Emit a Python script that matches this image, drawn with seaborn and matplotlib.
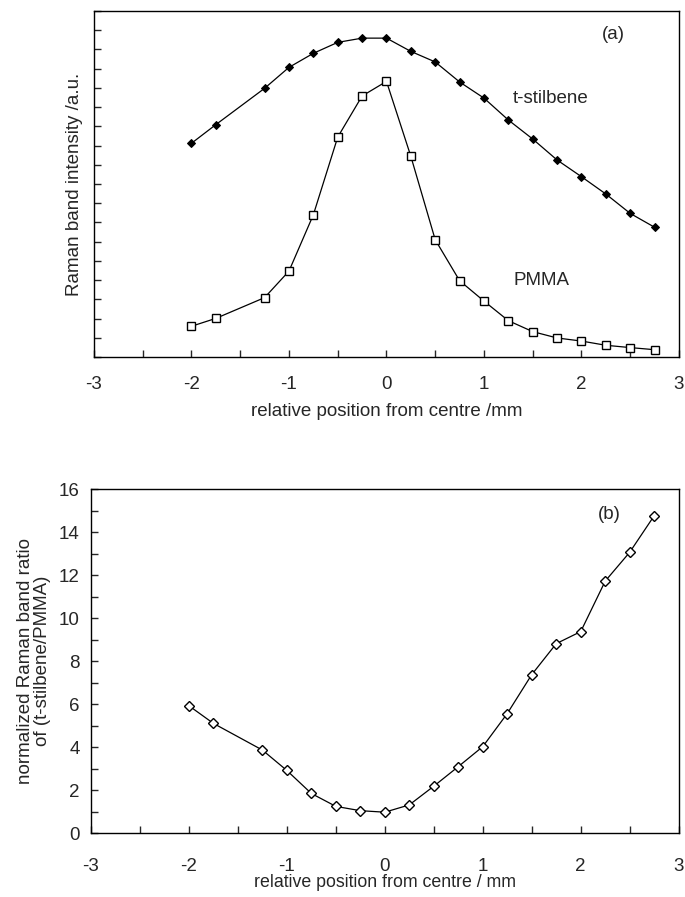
"""
Raman band intensity profiles across the sample and their normalized ratio
"""
import matplotlib
matplotlib.use("Agg")
import matplotlib.pyplot as plt
import matplotlib.ticker as mticker
import seaborn as sns
import pandas as pd

# positions from centre /mm (no point at -1.5)
position = [-2.0, -1.75, -1.25, -1.0, -0.75, -0.5, -0.25, 0.0, 0.25, 0.5,
            0.75, 1.0, 1.25, 1.5, 1.75, 2.0, 2.25, 2.5, 2.75]

# band intensities, arbitrary units
stilbene = [11.12, 12.09, 13.98, 15.07, 15.80, 16.37, 16.59, 16.59, 15.90, 15.35,
            14.31, 13.47, 12.33, 11.34, 10.25, 9.38, 8.48, 7.47, 6.75]
pmma = [1.60, 2.01, 3.09, 4.47, 7.40, 11.44, 13.58, 14.34, 10.44, 6.10,
        3.97, 2.91, 1.89, 1.32, 0.99, 0.83, 0.61, 0.49, 0.38]

# normalized ratio t-stilbene/PMMA
ratio = [5.92, 5.10, 3.86, 2.91, 1.84, 1.24, 1.04, 0.97, 1.31, 2.18,
         3.09, 4.02, 5.56, 7.37, 8.81, 9.37, 11.72, 13.06, 14.76]

sns.set_style("ticks")
plt.rcParams["font.family"] = ["Liberation Sans", "DejaVu Sans"]
plt.rcParams["axes.linewidth"] = 1.0
plt.rcParams["axes.unicode_minus"] = False

df = pd.DataFrame({"pos": position, "stilbene": stilbene, "pmma": pmma, "ratio": ratio})

fig = plt.figure(figsize=(6.85, 8.97), dpi=100)
ax1 = fig.add_axes([0.1372, 0.602, 0.854, 0.3857])
ax2 = fig.add_axes([0.1328, 0.0713, 0.858, 0.3835])

line_kw = {"color": "black", "linewidth": 0.9}

sns.lineplot(data=df, x="pos", y="stilbene", ax=ax1, marker="D", markersize=4.5,
             markerfacecolor="black", markeredgecolor="black", **line_kw)
sns.lineplot(data=df, x="pos", y="pmma", ax=ax1, marker="s", markersize=5.8,
             markerfacecolor="white", markeredgecolor="black", markeredgewidth=1.0, **line_kw)
sns.lineplot(data=df, x="pos", y="ratio", ax=ax2, marker="D", markersize=5,
             markerfacecolor="white", markeredgecolor="black", markeredgewidth=1.0, **line_kw)

fs = 13.5
for ax in (ax1, ax2):
    ax.set_xlim(-3, 3)
    ax.xaxis.set_major_locator(mticker.MultipleLocator(1))
    ax.xaxis.set_minor_locator(mticker.MultipleLocator(0.5))
    ax.tick_params(axis="both", which="both", direction="in", top=False, right=False,
                   labelsize=fs, width=1.0)
    ax.tick_params(axis="both", which="major", length=5, pad=14)
    ax.tick_params(axis="both", which="minor", length=5)
    for s in ax.spines.values():
        s.set_visible(True)
        s.set_color("black")

# (a) intensities
ax1.set_ylim(0, 18)
ax1.yaxis.set_major_locator(mticker.MultipleLocator(1))
ax1.set_yticklabels([])
ax1.tick_params(axis="y", which="major", length=5)
ax1.set_xlabel("relative position from centre /mm", fontsize=fs, labelpad=7)
ax1.set_ylabel("Raman band intensity /a.u.", fontsize=fs, labelpad=-6)
ax1.text(2.33, 16.8, "(a)", fontsize=fs, ha="center", va="center")
ax1.text(1.68, 13.45, "t-stilbene", fontsize=fs, ha="center", va="center")
ax1.text(1.59, 4.0, "PMMA", fontsize=fs, ha="center", va="center")

# (b) ratio
ax2.set_ylim(0, 16)
ax2.yaxis.set_major_locator(mticker.MultipleLocator(2))
ax2.yaxis.set_minor_locator(mticker.MultipleLocator(1))
ax2.tick_params(axis="y", which="major", pad=8)
ax2.tick_params(axis="x", which="major", pad=18)
ax2.set_xlabel("relative position from centre / mm", fontsize=12.8, labelpad=-1)
ax2.set_ylabel("normalized Raman band ratio\nof (t-stilbene/PMMA)", fontsize=fs,
               labelpad=6, linespacing=1.0)
ax2.text(2.29, 14.8, "(b)", fontsize=fs, ha="center", va="center")

fig.savefig("out.png", dpi=100)
